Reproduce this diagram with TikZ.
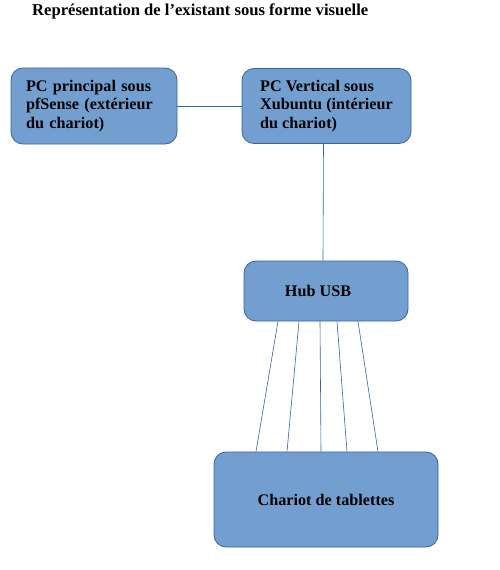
\documentclass[tikz,border=0pt]{standalone}
\usepackage{fontspec}
\setmainfont{Liberation Serif}
\usetikzlibrary{positioning}
\definecolor{bleu}{HTML}{729FCF}
\definecolor{bord}{HTML}{3465A4}
\tikzset{
  boite/.style={draw=bord, fill=bleu, line width=0.8pt, rounded corners=12pt, font=\bfseries\fontsize{16.2}{18.7}\selectfont},
  fil/.style={draw=bord, line width=0.6pt}
}
\begin{document}
\begin{tikzpicture}[x=1pt, y=-1pt]
            \useasboundingbox[fill=white] (0,0) rectangle (500,570);
            % Titre
            \node[anchor=west, inner sep=0pt, font=\bfseries\fontsize{16.6}{19}\selectfont] (titre) at (32,11) {Représentation de l’existant sous forme visuelle};

            % Boites
            \node[boite, minimum width=166pt, minimum height=76pt, inner xsep=15pt, text width=136pt, align=left] (pcp) at (94,106) {PC principal sous\\pfSense (extérieur\\du chariot)};
            \node[boite, minimum width=169pt, minimum height=75pt, align=left] (pcv) at (326.5,106) {PC Vertical sous\\Xubuntu (intérieur\\du chariot)};
            \node[boite, minimum width=164pt, minimum height=60pt, align=center] (hub) at (326,291) {Hub USB\hspace*{16pt}};
            \node[boite, minimum width=224pt, minimum height=95pt, align=center] (chariot) at (326,499.5) {Chariot de tablettes};

            % Liaisons
            \draw[fil] (pcp.east) -- (pcv.west);
            \draw[fil] ([xshift=-3pt]pcv.south) -- ([xshift=-3pt]hub.north);
            \foreach \a/\b in {-48/-70,-27/-39,-6/-5,11/21,32/52}
              \draw[fil] ([xshift=\a pt]hub.south) -- ([xshift=\b pt]chariot.north);
        \end{tikzpicture}
\end{document}
